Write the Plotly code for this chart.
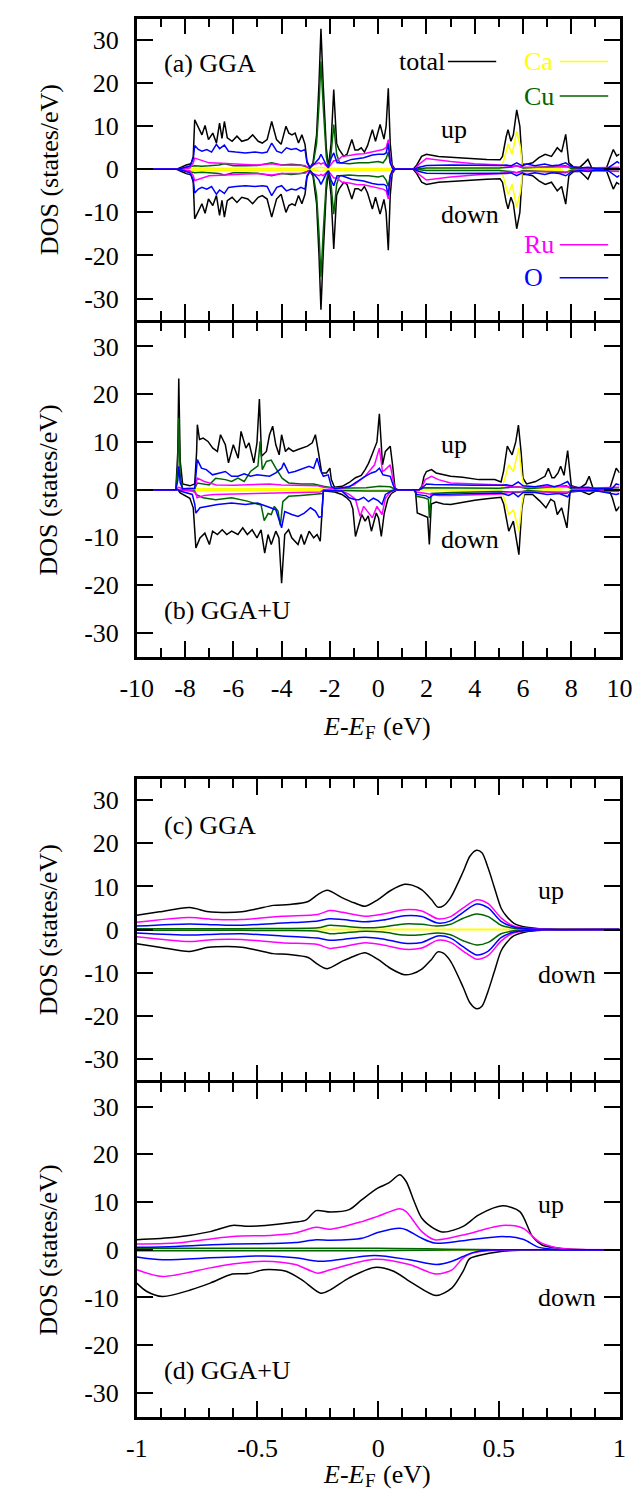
import plotly.graph_objects as go

# ---------------- DATA ----------------
# Panel (a) GGA  (non spin-polarised: down = -up)
a_tot_E = [-10, -8.35, -8.15, -7.95, -7.75, -7.66, -7.6, -7.45, -7.3, -7.17, -7.03, -6.85, -6.7, -6.57, -6.47, -6.37, -6.25, -6.05, -5.85, -5.65, -5.4, -5.2, -4.97, -4.8, -4.6, -4.41, -4.21, -4.02, -3.82, -3.7, -3.57, -3.44, -3.3, -3.16, -3.03, -2.95, -2.83, -2.7, -2.55, -2.45, -2.37, -2.28, -2.15, -2.06, -1.95, -1.84, -1.72, -1.62, -1.42, -1.29, -1.09, -0.96, -0.83, -0.7, -0.57, -0.44, -0.24, -0.11, 0.08, 0.24, 0.33, 0.42, 0.5, 0.58, 0.7, 1.45, 1.6, 1.8, 2.0, 2.5, 3.0, 3.5, 4.0, 4.5, 5.05, 5.15, 5.3, 5.38, 5.5, 5.6, 5.74, 5.87, 5.97, 6.15, 6.4, 6.66, 6.92, 7.18, 7.42, 7.6, 7.77, 7.9, 8.1, 8.36, 8.55, 8.69, 8.85, 9.45, 9.6, 9.74, 9.88, 10]
a_tot = [0, 0, 0.5, 1.0, 1.3, 3.0, 11.5, 9.6, 8.0, 10.2, 6.9, 8.4, 6.1, 10.7, 7.2, 11.1, 7.3, 6.5, 7.7, 6.5, 6.9, 8.0, 6.5, 6.1, 6.9, 11.1, 6.9, 5.8, 10.0, 8.4, 8.0, 8.4, 6.1, 8.0, 5.8, 1.9, 0.4, 1.5, 8.0, 20.0, 32.6, 20.0, 5.0, 0.4, 6.0, 18.5, 6.0, 4.6, 3.0, 3.5, 6.9, 4.5, 4.5, 5.0, 4.0, 5.5, 9.2, 6.5, 10.4, 7.0, 10.0, 18.8, 6.0, 1.0, 0, 0, 1.0, 3.0, 3.5, 3.0, 2.8, 2.6, 2.5, 2.3, 2.2, 3.0, 7.5, 9.2, 6.5, 8.0, 13.8, 10.0, 1.2, 1.2, 1.5, 2.7, 3.5, 3.0, 5.0, 4.0, 8.1, 1.5, 0.5, 0.5, 1.5, 2.3, 0.3, 0.2, 2.5, 4.6, 3.1, 3.5]

a_ca_E = [-10, -8.3, -7.6, -3.0, -2.9, -2.5, -2.37, -2.2, -1.7, 0.5, 0.7, 5.05, 5.2, 5.38, 5.55, 5.74, 5.9, 5.97, 6.1, 7.5, 7.77, 8.0, 10]
a_ca = [0, 0, 0.25, 0.25, 0.05, 0.3, 0.5, 0.3, 0.2, 0.2, 0, 0, 2.0, 5.8, 3.5, 8.8, 5.0, 0.5, 0.2, 0.2, 0.6, 0.1, 0]

a_cu_E = [-10, -8.3, -7.6, -7.3, -7.0, -6.6, -6.37, -6.0, -5.5, -5.0, -4.41, -4.0, -3.6, -3.2, -2.95, -2.83, -2.7, -2.55, -2.45, -2.37, -2.28, -2.15, -2.06, -1.95, -1.84, -1.72, -1.6, -1.2, -0.8, -0.4, 0.0, 0.2, 0.33, 0.42, 0.5, 0.6, 0.7, 1.5, 2.0, 5.0, 5.5, 5.74, 6.0, 7.0, 7.77, 8.0, 10]
a_cu = [0, 0, 0.8, 0.7, 0.8, 1.0, 1.3, 0.8, 0.8, 0.9, 1.5, 1.0, 1.2, 1.0, 0.5, 0.2, 1.0, 6.0, 15.0, 25.0, 15.0, 3.0, 0.3, 3.5, 10.4, 3.5, 1.5, 1.3, 1.5, 1.5, 1.8, 1.5, 2.5, 4.0, 1.5, 0.3, 0, 0, 0.3, 0.3, 0.5, 0.8, 0.3, 0.5, 0.8, 0.2, 0.1]

a_ru_E = [-10, -8.3, -7.8, -7.66, -7.6, -7.4, -7.0, -6.5, -6.0, -5.5, -5.0, -4.41, -4.0, -3.5, -3.03, -2.9, -2.7, -2.45, -2.37, -2.28, -2.1, -2.0, -1.84, -1.7, -1.5, -1.2, -0.9, -0.6, -0.3, 0.0, 0.2, 0.33, 0.42, 0.5, 0.6, 0.7, 1.5, 1.7, 2.0, 3.0, 4.0, 5.05, 5.5, 5.74, 6.0, 7.0, 7.77, 8.5, 9.7, 10]
a_ru = [0, 0, 0.3, 1.5, 2.6, 2.2, 1.5, 1.4, 1.2, 1.1, 1.0, 1.3, 1.0, 0.9, 0.9, 0.4, 1.0, 1.5, 1.2, 1.5, 0.5, 0.8, 2.0, 2.0, 3.0, 3.2, 3.5, 3.6, 4.0, 4.4, 4.6, 5.0, 6.9, 2.0, 0.3, 0, 0, 1.2, 2.5, 1.8, 1.3, 1.0, 0.6, 0.8, 0.5, 0.5, 0.6, 0.3, 0.5, 0.5]

a_o_E = [-10, -8.3, -8.1, -7.8, -7.66, -7.6, -7.45, -7.3, -7.1, -6.9, -6.7, -6.57, -6.37, -6.2, -5.9, -5.5, -5.1, -4.8, -4.6, -4.41, -4.2, -4.0, -3.8, -3.6, -3.4, -3.2, -3.03, -2.95, -2.83, -2.6, -2.45, -2.37, -2.28, -2.15, -2.06, -1.95, -1.84, -1.7, -1.5, -1.1, -0.6, -0.24, 0.0, 0.24, 0.33, 0.42, 0.5, 0.6, 0.7, 1.5, 1.7, 2.0, 3.0, 4.0, 5.05, 5.3, 5.5, 5.74, 5.97, 6.15, 6.5, 6.9, 7.2, 7.5, 7.77, 8.0, 8.36, 8.69, 9.0, 9.5, 9.74, 9.9, 10]
a_o = [0, 0, 0.3, 0.8, 2.5, 5.5, 4.6, 4.2, 4.6, 4.0, 5.8, 4.8, 5.6, 4.2, 4.0, 3.8, 4.0, 3.8, 4.0, 6.1, 4.2, 3.8, 5.0, 4.6, 4.8, 4.2, 4.6, 1.5, 0.4, 1.5, 2.5, 3.5, 2.5, 1.0, 0.4, 2.5, 3.8, 1.5, 1.5, 2.3, 2.7, 3.3, 3.5, 3.5, 3.8, 6.0, 1.5, 0.2, 0, 0, 0.5, 0.9, 1.0, 0.9, 0.9, 1.0, 0.8, 1.5, 0.8, 1.2, 0.8, 1.2, 0.8, 1.0, 1.5, 0.6, 0.3, 0.5, 0.2, 0.2, 1.2, 1.8, 1.4]

# Panel (b) GGA+U (spin-polarised)
b_tot_up_E = [-10, -8.38, -8.3, -8.26, -8.2, -8.1, -7.8, -7.6, -7.52, -7.49, -7.4, -7.25, -7.05, -6.85, -6.66, -6.53, -6.33, -6.2, -6.0, -5.8, -5.68, -5.48, -5.35, -5.15, -5.02, -4.92, -4.83, -4.63, -4.5, -4.37, -4.24, -4.1, -4.0, -3.84, -3.71, -3.52, -3.32, -3.12, -2.93, -2.73, -2.6, -2.47, -2.34, -2.14, -2.0, -1.94, -1.81, -1.49, -1.2, -0.94, -0.7, -0.54, -0.4, -0.28, -0.15, -0.05, 0.05, 0.18, 0.3, 0.5, 0.6, 0.7, 0.8, 1.7, 1.81, 1.9, 2.0, 2.21, 2.4, 2.7, 3.0, 3.5, 4.17, 4.83, 5.09, 5.2, 5.35, 5.55, 5.7, 5.81, 5.92, 6.0, 6.15, 6.52, 6.8, 6.91, 7.05, 7.2, 7.3, 7.45, 7.56, 7.7, 7.85, 8.0, 8.35, 8.6, 8.74, 8.9, 9.6, 9.75, 9.86, 10]
b_tot_up = [0, 0, 8.0, 23.3, 6.0, 1.2, 0.8, 1.2, 8.0, 13.6, 10.5, 10.8, 10.1, 8.7, 8.0, 11.5, 9.4, 5.6, 9.4, 6.6, 12.2, 8.7, 9.8, 5.6, 9.8, 19.0, 7.0, 8.0, 11.5, 13.3, 9.4, 7.3, 11.5, 8.0, 8.7, 8.0, 8.4, 8.7, 9.1, 9.8, 11.5, 7.7, 3.5, 3.5, 4.5, 2.1, 0.5, 0.7, 1.5, 2.5, 3.0, 4.2, 5.5, 7.0, 8.5, 10.0, 15.9, 5.2, 8.0, 9.1, 5.0, 0.3, 0, 0, 0.7, 2.8, 3.8, 4.2, 3.5, 3.1, 2.8, 2.6, 2.1, 2.1, 1.6, 4.0, 9.1, 7.3, 10.0, 13.5, 8.0, 2.4, 1.2, 1.7, 2.5, 2.8, 4.5, 2.5, 2.5, 3.5, 4.9, 3.0, 8.2, 0.8, 0.3, 1.2, 2.8, 0.3, 0.3, 2.5, 4.5, 3.5]
b_tot_dn_E = [-10, -8.3, -8.2, -8.0, -7.8, -7.66, -7.55, -7.38, -7.18, -6.99, -6.86, -6.66, -6.46, -6.27, -6.07, -5.81, -5.61, -5.42, -5.22, -5.02, -4.85, -4.7, -4.56, -4.43, -4.24, -4.11, -4.0, -3.87, -3.71, -3.58, -3.45, -3.32, -3.19, -3.06, -2.86, -2.67, -2.53, -2.4, -2.34, -2.27, -2.2, -1.8, -1.5, -1.3, -1.15, -1.05, -0.94, -0.8, -0.68, -0.54, -0.41, -0.28, -0.15, -0.08, 0.02, 0.13, 0.25, 0.4, 0.55, 0.7, 0.8, 1.45, 1.55, 1.62, 1.85, 2.05, 2.12, 2.2, 2.4, 2.7, 3.0, 3.5, 4.0, 4.5, 5.09, 5.2, 5.41, 5.6, 5.83, 5.95, 6.05, 6.4, 6.7, 6.95, 7.15, 7.3, 7.42, 7.6, 7.82, 7.95, 8.4, 8.74, 9.0, 9.6, 9.7, 9.86, 10]
b_tot_dn = [0, 0, -0.7, -1.2, -1.8, -3.8, -12.2, -10.1, -9.1, -11.5, -8.7, -9.4, -8.4, -9.4, -8.7, -9.4, -8.0, -9.4, -8.4, -10.1, -8.4, -13.3, -9.4, -11.5, -8.7, -10.1, -19.6, -9.4, -8.4, -10.1, -10.8, -11.5, -9.4, -11.5, -8.7, -10.1, -9.4, -10.8, -5.9, -0.3, -0.3, -0.5, -1.0, -1.7, -2.5, -4.0, -9.8, -7.0, -5.2, -6.6, -5.5, -8.7, -6.0, -4.9, -6.0, -9.8, -5.0, -2.0, -0.8, -0.2, 0, 0, -0.5, -4.9, -5.4, -5.8, -11.5, -3.0, -2.6, -3.0, -3.1, -2.6, -2.2, -1.9, -1.6, -3.0, -8.7, -6.6, -13.6, -4.0, -1.0, -1.0, -2.4, -3.8, -2.0, -2.5, -5.2, -3.8, -8.0, -0.5, -0.3, -1.0, -0.3, -0.5, -1.7, -4.5, -3.5]

b_ca_E = [-10, -8.3, -7.6, -2.3, -2.2, 5.09, 5.2, 5.41, 5.6, 5.83, 5.95, 6.05, 7.5, 7.85, 8.0, 10]
b_ca_up = [0, 0, 0.2, 0.2, 0, 0, 1.5, 5.2, 3.8, 8.7, 3.0, 0.3, 0.3, 0.5, 0.1, 0]
b_ca_dn = [0, 0, -0.2, -0.2, 0, 0, -1.5, -5.2, -4.2, -8.7, -3.0, -0.3, -0.3, -0.5, -0.1, 0]

b_cu_up_E = [-10, -8.38, -8.3, -8.26, -8.2, -8.1, -7.6, -7.49, -7.0, -6.73, -6.33, -6.07, -5.81, -5.55, -5.29, -5.1, -4.98, -4.89, -4.8, -4.63, -4.43, -4.24, -3.98, -3.71, -3.19, -2.67, -2.27, -1.8, -0.5, 0.05, 0.5, 0.7, 0.8, 1.7, 1.9, 5.0, 5.8, 6.2, 7.8, 8.0, 10]
b_cu_up = [0, 0, 5.0, 15.0, 3.0, 0.2, 0.2, 1.4, 1.0, 2.4, 2.1, 1.7, 2.4, 1.7, 3.8, 4.5, 5.0, 10.1, 4.2, 5.9, 6.2, 4.5, 2.4, 1.4, 1.2, 1.2, 0.7, 0.3, 0.4, 0.7, 0.6, 0.1, 0, 0, 0.4, 0.3, 0.6, 0.2, 0.8, 0.2, 0.1]
b_cu_dn_E = [-10, -8.3, -7.6, -7.55, -7.25, -6.73, -6.07, -5.42, -5.02, -4.85, -4.72, -4.56, -4.43, -4.3, -4.15, -4.05, -3.95, -3.71, -3.2, -2.6, -2.3, -2.25, -1.5, -0.5, 0.5, 0.7, 1.5, 1.6, 1.9, 2.08, 2.12, 2.2, 3.0, 5.0, 5.8, 6.2, 7.8, 8.0, 10]
b_cu_dn = [0, 0, -0.3, -1.0, -1.7, -2.1, -1.7, -2.4, -3.0, -3.2, -6.5, -5.0, -5.2, -3.5, -4.5, -7.5, -2.5, -1.4, -1.2, -1.0, -0.8, -0.1, -0.2, -0.3, -0.3, 0, 0, -1.4, -1.7, -2.0, -5.9, -0.8, -0.6, -0.4, -0.6, -0.2, -0.8, -0.2, -0.1]

b_ru_up_E = [-10, -8.38, -8.26, -8.1, -7.6, -7.49, -7.2, -6.7, -6.0, -5.0, -4.5, -4.0, -3.0, -2.5, -2.27, -1.94, -1.5, -1.0, -0.54, -0.15, 0.05, 0.18, 0.3, 0.5, 0.62, 0.7, 0.8, 1.7, 1.81, 1.95, 2.21, 2.5, 3.0, 4.0, 5.09, 5.5, 6.0, 7.0, 7.85, 8.5, 9.8, 10]
b_ru_up = [0, 0, 0.5, 0.2, 0.3, 2.4, 1.7, 1.0, 0.9, 1.1, 1.2, 1.0, 0.9, 0.8, 0.5, 0.3, 0.3, 1.0, 2.8, 5.2, 8.7, 3.8, 4.2, 5.2, 2.0, 0.1, 0, 0, 0.5, 2.1, 2.8, 2.1, 1.4, 1.2, 1.0, 0.6, 0.5, 0.6, 0.6, 0.3, 0.5, 0.5]
b_ru_dn_E = [-10, -8.3, -7.7, -7.55, -7.5, -7.2, -6.8, -6.0, -5.0, -4.0, -3.0, -2.4, -2.27, -1.5, -1.2, -0.94, -0.75, -0.6, -0.45, -0.24, -0.05, 0.16, 0.3, 0.5, 0.7, 1.5, 1.6, 2.0, 2.5, 3.0, 4.0, 5.09, 5.5, 6.0, 7.0, 7.85, 8.5, 9.8, 10]
b_ru_dn = [0, 0, -0.3, -0.7, -1.7, -1.2, -1.0, -0.9, -0.8, -0.7, -0.6, -0.5, -0.1, -0.3, -1.0, -2.0, -5.6, -3.5, -4.5, -5.9, -3.5, -5.2, -1.8, -0.5, 0, 0, -0.5, -0.8, -1.2, -1.2, -1.0, -0.9, -0.5, -0.4, -0.5, -0.5, -0.2, -0.4, -0.4]

b_o_up_E = [-10, -8.38, -8.3, -8.26, -8.2, -8.1, -7.6, -7.49, -7.32, -7.12, -6.86, -6.6, -6.33, -6.07, -5.81, -5.55, -5.29, -5.02, -4.76, -4.5, -4.24, -4.0, -3.91, -3.71, -3.45, -3.06, -2.86, -2.67, -2.53, -2.4, -2.27, -2.07, -1.94, -1.8, -1.2, -0.54, -0.28, -0.1, 0.05, 0.2, 0.5, 0.62, 0.7, 0.8, 1.7, 1.81, 2.0, 2.3, 3.0, 4.0, 5.09, 5.3, 5.55, 5.8, 6.0, 6.5, 7.0, 7.3, 7.56, 7.85, 8.0, 8.7, 9.0, 9.7, 9.86, 10]
b_o_up = [0, 0, 2.0, 4.9, 1.5, 0.2, 0.3, 6.3, 4.5, 4.2, 3.1, 3.5, 3.8, 2.8, 2.8, 3.3, 2.8, 3.1, 3.0, 2.8, 3.5, 4.5, 5.6, 3.5, 3.8, 4.5, 4.9, 4.5, 6.6, 4.2, 2.8, 3.1, 0.7, 0.2, 0.6, 2.8, 3.5, 3.8, 4.5, 3.1, 2.8, 1.0, 0.1, 0, 0, 0.3, 1.2, 1.1, 1.0, 0.9, 0.9, 1.0, 0.8, 1.6, 0.8, 0.6, 1.0, 0.6, 1.0, 1.7, 0.4, 0.5, 0.2, 0.3, 1.2, 1.0]
b_o_dn_E = [-10, -8.3, -8.2, -7.7, -7.6, -7.55, -7.38, -6.99, -6.66, -6.07, -5.5, -5.0, -4.7, -4.43, -4.24, -4.0, -3.87, -3.58, -3.32, -3.06, -2.8, -2.6, -2.45, -2.34, -2.27, -1.5, -1.2, -0.94, -0.8, -0.6, -0.4, -0.2, 0.0, 0.16, 0.3, 0.5, 0.7, 1.5, 1.6, 2.0, 2.12, 2.3, 3.0, 4.0, 5.09, 5.4, 5.6, 5.8, 6.0, 6.5, 7.0, 7.5, 7.85, 8.0, 9.0, 9.86, 10]
b_o_dn = [0, 0, -0.3, -1.0, -3.0, -4.9, -3.8, -3.4, -3.1, -2.8, -3.1, -2.8, -3.4, -3.8, -4.2, -8.0, -4.6, -5.2, -5.6, -4.9, -3.8, -4.5, -5.8, -5.6, -0.2, -0.3, -1.7, -2.1, -2.1, -1.6, -2.5, -1.8, -2.3, -3.1, -1.0, -0.4, 0, 0, -1.0, -1.3, -1.7, -1.0, -0.9, -0.8, -0.7, -1.2, -0.7, -1.5, -0.6, -0.6, -1.0, -0.8, -1.5, -0.3, -0.2, -1.0, -0.8]

# Panel (c) GGA, zoom (down = -up)
c_tot_E = [-1.0, -0.906, -0.781, -0.71, -0.67, -0.565, -0.5, -0.434, -0.368, -0.29, -0.25, -0.211, -0.146, -0.1, -0.054, -0.002, 0.05, 0.109, 0.14, 0.181, 0.22, 0.247, 0.27, 0.299, 0.352, 0.38, 0.408, 0.43, 0.456, 0.48, 0.509, 0.53, 0.561, 0.614, 0.65, 0.692, 0.8, 1.0]
c_tot = [3.3, 4.1, 5.1, 4.2, 4.0, 4.1, 4.8, 5.6, 5.8, 6.5, 8.1, 9.1, 7.3, 6.2, 5.4, 6.9, 9.0, 10.5, 10.3, 9.2, 7.0, 5.2, 5.5, 7.3, 13.4, 17.0, 18.4, 17.8, 14.2, 10.0, 5.0, 3.2, 1.5, 0.5, 0.3, 0.1, 0, 0]
c_ca_E = [-1.0, 0.6, 0.7, 1.0]
c_ca = [0.05, 0.05, 0, 0]
c_pd_E = [-1.0, -0.781, -0.67, -0.565, -0.4, -0.25, -0.2, -0.146, -0.054, 0.02, 0.109, 0.181, 0.247, 0.3, 0.352, 0.408, 0.456, 0.509, 0.561, 0.614, 0.7, 1.0]
c_cu = [0.2, 0.2, 0.2, 0.2, 0.25, 0.4, 1.0, 0.8, 0.4, 0.6, 1.3, 1.2, 0.8, 1.2, 2.6, 3.6, 3.0, 1.0, 0.3, 0.1, 0, 0]
c_ru = [1.7, 2.8, 2.3, 2.3, 3.1, 3.5, 4.4, 4.0, 3.1, 3.6, 4.6, 4.3, 2.5, 3.0, 5.0, 6.9, 6.0, 2.7, 0.8, 0.3, 0.05, 0]
c_o = [0.8, 1.3, 1.1, 1.0, 1.5, 2.0, 2.5, 2.3, 1.8, 2.2, 3.2, 3.0, 1.5, 2.0, 4.0, 5.9, 5.0, 1.9, 0.6, 0.2, 0.05, 0]

# Panel (d) GGA+U, zoom
d_tot_up_E = [-1.0, -0.84, -0.696, -0.604, -0.539, -0.447, -0.343, -0.3, -0.257, -0.198, -0.12, -0.067, -0.002, 0.044, 0.09, 0.116, 0.15, 0.181, 0.23, 0.273, 0.352, 0.417, 0.515, 0.587, 0.639, 0.679, 0.744, 0.823, 1.0]
d_tot_up = [2.1, 2.6, 3.8, 5.1, 4.9, 5.2, 5.8, 6.2, 8.2, 7.9, 8.4, 10.5, 12.9, 14.0, 15.7, 14.3, 10.0, 6.6, 4.5, 3.7, 4.9, 7.3, 9.2, 8.0, 2.8, 1.0, 0.35, 0.05, 0]
d_tot_dn_E = [-1.0, -0.96, -0.893, -0.775, -0.696, -0.604, -0.539, -0.473, -0.382, -0.316, -0.238, -0.198, -0.12, -0.015, 0.064, 0.142, 0.24, 0.306, 0.352, 0.378, 0.417, 0.509, 0.6, 0.7, 1.0]
d_tot_dn = [-7.0, -8.7, -9.8, -8.4, -7.0, -5.1, -5.0, -4.2, -4.5, -6.3, -9.1, -8.4, -5.9, -3.7, -4.5, -7.0, -9.6, -8.0, -4.5, -1.9, -1.2, -0.35, -0.1, 0, 0]
d_ca_E = [-1.0, 1.0]
d_ca_up = [0, 0]
d_ca_dn = [0, 0]
d_cu_E = [-1.0, -0.5, 0.0, 0.2, 0.4, 0.5, 1.0]
d_cu_up = [0.3, 0.3, 0.3, 0.2, 0.05, 0, 0]
d_cu_dn = [-0.2, -0.2, -0.2, -0.1, 0, 0, 0]
d_up_E = [-1.0, -0.84, -0.604, -0.447, -0.343, -0.257, -0.198, -0.067, -0.002, 0.09, 0.116, 0.181, 0.234, 0.352, 0.515, 0.6, 0.666, 0.744, 0.823, 1.0]
d_ru_up = [1.2, 1.4, 2.8, 3.0, 3.5, 4.7, 4.3, 5.9, 7.0, 8.6, 8.0, 3.8, 2.1, 3.1, 5.1, 4.5, 1.7, 0.35, 0.05, 0]
d_o_up = [0.5, 0.7, 1.2, 1.3, 1.5, 2.1, 2.0, 2.4, 3.6, 4.5, 4.2, 2.4, 1.4, 1.9, 2.8, 2.2, 0.5, 0.05, 0, 0]
d_dn_E = [-1.0, -0.893, -0.696, -0.604, -0.473, -0.343, -0.25, -0.198, -0.015, 0.129, 0.24, 0.306, 0.352, 0.391, 0.456, 0.6, 1.0]
d_ru_dn = [-4.2, -5.6, -3.8, -3.0, -2.4, -3.1, -4.9, -4.2, -2.0, -3.1, -5.1, -4.2, -1.7, -0.7, -0.2, 0, 0]
d_o_dn = [-1.5, -2.1, -1.7, -1.5, -1.3, -1.7, -2.4, -2.3, -1.2, -2.1, -3.1, -2.4, -1.4, -0.6, -0.05, 0, 0]

y_ticks = [-30, -20, -10, 0, 10, 20, 30]
y_ticktext = ["-30", "-20", "-10", "0", "10", "20", "30"]
x_ticks_wide = [-10, -8, -6, -4, -2, 0, 2, 4, 6, 8, 10]
x_ticktext_wide = ["-10", "-8", "-6", "-4", "-2", "0", "2", "4", "6", "8", "10"]
x_ticks_zoom = [-1, -0.5, 0, 0.5, 1]
x_ticktext_zoom = ["-1", "-0.5", "0", "0.5", "1"]
legend_names = ["total", "Ca", "Cu", "Ru", "O"]

# ---------------- STYLE ----------------
COL = {"total": "#000000", "Ca": "#FFFF00", "Cu": "#006400", "Ru": "#FF00FF", "O": "#0000FF"}
FONT = "Liberation Serif"
FS = 26
W, H = 641, 1489
XL, XR = 116, 625
LW = 2.5
PANELS = [(9.3, 313.3), (313.3, 650.0), (769.5, 1073.5), (1073.5, 1410.0)]

fig = go.Figure()


def add(E, v, name, i, neg=False, shape="linear"):
    if len(E) != len(v):
        raise ValueError(f"length mismatch {name} panel {i}: {len(E)} vs {len(v)}")
    y = [-t for t in v] if neg else v
    line = dict(color=COL[name], width=1.5, shape=shape)
    if shape == "spline":
        line["smoothing"] = 0.8
    fig.add_trace(go.Scatter(
        x=E, y=y, mode="lines", showlegend=False, hoverinfo="skip", line=line,
        xaxis="x" if i == 1 else f"x{i}", yaxis="y" if i == 1 else f"y{i}"))


# panel a (symmetric)
for E, v, n in [(a_tot_E, a_tot, "total"), (a_ca_E, a_ca, "Ca"), (a_cu_E, a_cu, "Cu"),
                (a_ru_E, a_ru, "Ru"), (a_o_E, a_o, "O")]:
    add(E, v, n, 1)
    add(E, v, n, 1, neg=True)

# panel b
for E, v, n in [(b_tot_up_E, b_tot_up, "total"), (b_tot_dn_E, b_tot_dn, "total"),
                (b_ca_E, b_ca_up, "Ca"), (b_ca_E, b_ca_dn, "Ca"),
                (b_cu_up_E, b_cu_up, "Cu"), (b_cu_dn_E, b_cu_dn, "Cu"),
                (b_ru_up_E, b_ru_up, "Ru"), (b_ru_dn_E, b_ru_dn, "Ru"),
                (b_o_up_E, b_o_up, "O"), (b_o_dn_E, b_o_dn, "O")]:
    add(E, v, n, 2)

# panel c (symmetric)
for E, v, n in [(c_tot_E, c_tot, "total"), (c_ca_E, c_ca, "Ca"), (c_pd_E, c_cu, "Cu"),
                (c_pd_E, c_ru, "Ru"), (c_pd_E, c_o, "O")]:
    add(E, v, n, 3, shape="spline")
    add(E, v, n, 3, neg=True, shape="spline")

# panel d
for E, v, n in [(d_tot_up_E, d_tot_up, "total"), (d_tot_dn_E, d_tot_dn, "total"),
                (d_ca_E, d_ca_up, "Ca"), (d_ca_E, d_ca_dn, "Ca"),
                (d_cu_E, d_cu_up, "Cu"), (d_cu_E, d_cu_dn, "Cu"),
                (d_up_E, d_ru_up, "Ru"), (d_dn_E, d_ru_dn, "Ru"),
                (d_up_E, d_o_up, "O"), (d_dn_E, d_o_dn, "O")]:
    add(E, v, n, 4, shape="spline")

layout = dict(width=W, height=H, margin=dict(l=0, r=0, t=0, b=0),
              paper_bgcolor="white", plot_bgcolor="white",
              font=dict(family=FONT, size=FS, color="black"), showlegend=False)

annotations = []
shapes = []
for i, (top, bot) in enumerate(PANELS, start=1):
    sfx = "" if i == 1 else str(i)
    wide = i <= 2
    ax_common = dict(showline=True, linecolor="black", linewidth=LW, mirror="allticks",
                     ticks="inside", ticklen=16, tickwidth=2, tickcolor="black",
                     showgrid=False, zeroline=False, tickfont=dict(family=FONT, size=FS))
    # axis lines are drawn just outside the domain, so inset by half a line width
    layout["xaxis" + sfx] = dict(
        ax_common, domain=[(XL + LW / 2) / W, (XR - LW / 2) / W], anchor="y" + sfx,
        range=[-10, 10] if wide else [-1, 1],
        tickmode="array", ticklabelstandoff=6,
        tickvals=x_ticks_wide if wide else x_ticks_zoom,
        ticktext=x_ticktext_wide if wide else x_ticktext_zoom,
        showticklabels=(i in (2, 4)),
        minor=dict(ticks="inside", ticklen=9, tickwidth=2, tickcolor="black",
                   tickmode="linear", tick0=-10 if wide else -1, dtick=1 if wide else 0.1))
    layout["yaxis" + sfx] = dict(
        ax_common, domain=[1 - (bot - LW / 2) / H, 1 - (top + LW / 2) / H], anchor="x" + sfx,
        range=[-35, 35], tickmode="array", tickvals=y_ticks, ticktext=y_ticktext,
        ticklabelstandoff=10)
    annotations.append(dict(text="DOS (states/eV)", textangle=-90, xref="paper", yref="paper",
                            x=25 / W, y=1 - (top + bot) / 2 / H, showarrow=False,
                            xanchor="center", yanchor="middle", font=dict(size=FS)))

# x titles: "E-E" + subscript F + "(eV)", built from three pieces
for ypix in (718, 1466):
    yy = 1 - ypix / H
    annotations.append(dict(text="<i>E</i>-<i>E</i>", xref="paper", yref="paper",
                            x=359 / W, y=yy, showarrow=False,
                            xanchor="right", yanchor="middle", font=dict(size=FS)))
    annotations.append(dict(text="F", xref="paper", yref="paper",
                            x=355 / W, y=1 - (ypix + 6) / H, showarrow=False,
                            xanchor="left", yanchor="middle", font=dict(size=19)))
    annotations.append(dict(text="(eV)", xref="paper", yref="paper",
                            x=374 / W, y=yy, showarrow=False,
                            xanchor="left", yanchor="middle", font=dict(size=FS)))

# panel labels
for txt, i, x, y in [("(a) GGA", 1, -8.94, 24.6), ("(b) GGA+U", 2, -8.94, -25.4),
                     ("(c) GGA", 3, -0.894, 24.2), ("(d) GGA+U", 4, -0.894, -25.4)]:
    sfx = "" if i == 1 else str(i)
    annotations.append(dict(text=txt, xref="x" + sfx, yref="y" + sfx, x=x, y=y, showarrow=False,
                            xanchor="left", yanchor="middle", font=dict(size=FS)))

# up / down labels
for i, x, yu, yd in [(1, 2.53, 9.2, -10.4), (2, 2.53, 9.4, -10.5),
                     (3, 0.654, 9.1, -10.4), (4, 0.654, 9.4, -10.1)]:
    sfx = "" if i == 1 else str(i)
    annotations.append(dict(text="up", xref="x" + sfx, yref="y" + sfx, x=x, y=yu, showarrow=False,
                            xanchor="left", yanchor="middle", font=dict(size=FS)))
    annotations.append(dict(text="down", xref="x" + sfx, yref="y" + sfx, x=x, y=yd, showarrow=False,
                            xanchor="left", yanchor="middle", font=dict(size=FS)))

# legend in panel (a)
leg = [("total", 2.89, 4.89, 25.0, "right"), ("Ca", 7.52, 9.53, 25.0, "left"),
       ("Cu", 7.52, 9.53, 17.0, "left"), ("Ru", 7.52, 9.53, -17.5, "left"),
       ("O", 7.52, 9.53, -25.2, "left")]
for name, x0, x1, y, anchor in leg:
    shapes.append(dict(type="line", xref="x", yref="y", x0=x0, x1=x1, y0=y, y1=y,
                       line=dict(color=COL[name], width=1.5)))
    tx = x0 - 0.03 if anchor == "right" else 5.95
    annotations.append(dict(text=name, xref="x", yref="y", x=tx, y=y, showarrow=False,
                            xanchor=anchor, yanchor="middle",
                            font=dict(size=FS, color=COL[name])))

layout["annotations"] = annotations
layout["shapes"] = shapes
fig.update_layout(**layout)
fig.write_html("out.html")
